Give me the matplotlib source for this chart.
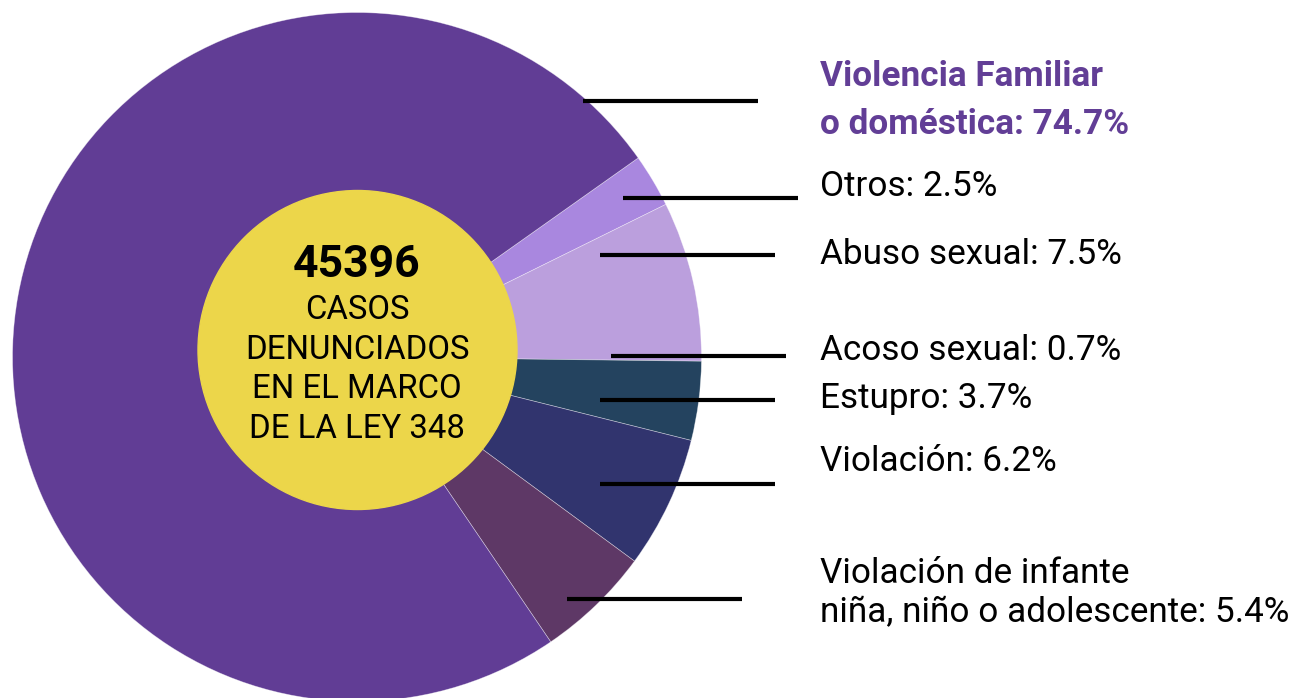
import matplotlib.pyplot as plt
from matplotlib.patches import Circle

plt.rcParams['font.family'] = ['Roboto', 'DejaVu Sans']

# slices drawn in the pie (clockwise, starting just after the big slice)
slice_names = ['Otros', 'Abuso sexual', 'Estupro', 'Violación',
               'Violación de infante', 'Violencia Familiar']
slice_pct = [2.5, 7.5, 3.7, 6.2, 5.4, 74.7]
slice_colors = ['#a987df', '#bb9fdd', '#24435f', '#31346e', '#5e3866', '#613d95']

# labels on the right, one entry per text line
title_lines = ['Violencia Familiar', 'o doméstica: 74.7%']
label_lines = ['Otros: 2.5%', 'Abuso sexual: 7.5%', 'Acoso sexual: 0.7%',
               'Estupro: 3.7%', 'Violación: 6.2%',
               'Violación de infante', 'niña, niño o adolescente: 5.4%']

total_cases = '45396'
center_lines = ['CASOS', 'DENUNCIADOS', 'EN EL MARCO', 'DE LA LEY 348']

W, H = 1293, 698
fig = plt.figure(figsize=(W / 100, H / 100), dpi=100)
ax = fig.add_axes([0, 0, 1, 1])

# y axis is flipped (pixel-like coordinates), so counterclock in data = clockwise on screen
ax.pie(slice_pct, colors=slice_colors, center=(357, 357), radius=344.5,
       startangle=-35.3, counterclock=True,
       wedgeprops=dict(edgecolor=(1, 1, 1, 0.45), linewidth=0.5))
ax.add_patch(Circle((357.5, 350), 159.5, color='#ecd64a', zorder=3))

ax.set_xlim(0, W)
ax.set_ylim(H, 0)
ax.set_aspect('auto')
ax.axis('off')

# leader lines: (y, x_start, x_end)
leaders = [(101, 583, 758), (198, 623, 798), (255, 600, 775), (356, 611, 786),
           (400, 600, 775), (484, 600, 775), (599, 567, 742)]
for y, x0, x1 in leaders:
    ax.plot([x0, x1], [y, y], color='black', lw=3, solid_capstyle='butt', zorder=4)

for txt, yb in zip(title_lines, [86, 134]):
    ax.text(820, yb, txt, fontsize=25.3, fontweight='bold', color='#623e96',
            va='baseline', ha='left')

label_baselines = [196, 264, 360, 408, 471, 583, 622]
for txt, yb in zip(label_lines, label_baselines):
    ax.text(820, yb, txt, fontsize=25.3, color='black', va='baseline', ha='left')

ax.text(357, 277, total_cases, fontsize=32, fontweight='bold', ha='center',
        va='baseline', zorder=5)
for txt, yb in zip(center_lines, [319, 359, 398, 438]):
    ax.text(357, yb, txt, fontsize=23.7, ha='center', va='baseline', zorder=5)

fig.savefig('out.png', dpi=100)
